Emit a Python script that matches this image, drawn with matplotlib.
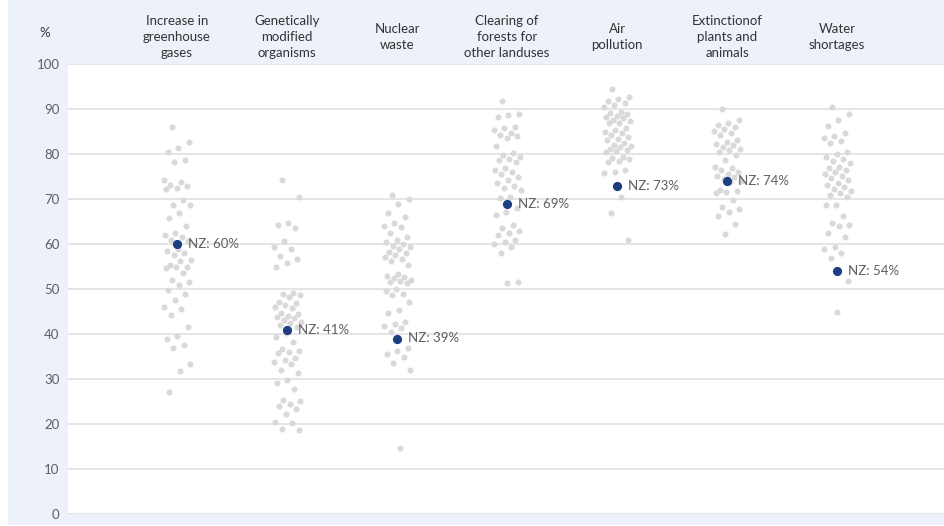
import numpy as np
import matplotlib
matplotlib.use("Agg")
import matplotlib.pyplot as plt
from matplotlib.patches import Rectangle

# ---------------------------------------------------------------------------
# Data: share of respondents per country (grey) and New Zealand (navy), in %
# ---------------------------------------------------------------------------
categories = [
    "Increase in\ngreenhouse\ngases",
    "Genetically\nmodified\norganisms",
    "Nuclear\nwaste",
    "Clearing of\nforests for\nother landuses",
    "Air\npollution",
    "Extinctionof\nplants and\nanimals",
    "Water\nshortages",
]

greenhouse = [85.9, 82.7, 81.3, 80.5, 78.7, 78.3, 74.2, 73.8, 73.2, 72.8, 72.5, 72.3,
              69.8, 68.7, 68.6, 67.0, 65.7, 64.0, 62.4, 62.0, 61.6, 61.0, 60.6, 59.0,
              58.5, 58.0, 57.6, 56.4, 56.2, 55.4, 55.0, 54.8, 54.6, 53.5, 52.0, 51.6,
              50.9, 49.8, 49.0, 47.6, 46.0, 45.5, 44.2, 41.5, 39.6, 39.0, 37.5, 37.0,
              33.3, 31.8, 27.2]
gmo = [74.2, 70.4, 64.7, 64.2, 63.5, 60.7, 59.3, 58.8, 57.3, 56.7, 55.7, 54.8, 49.2,
       48.9, 48.6, 48.3, 47.2, 46.8, 46.4, 46.0, 45.7, 44.7, 44.4, 44.1, 43.8, 43.5,
       43.1, 42.7, 42.4, 42.0, 41.6, 40.2, 39.3, 38.3, 36.6, 36.3, 36.0, 35.7, 34.7,
       34.3, 33.8, 33.3, 31.9, 31.3, 29.8, 29.2, 27.7, 25.3, 25.1, 24.4, 24.0, 23.3,
       22.2, 20.5, 20.3, 19.0, 18.7]
nuclear = [70.9, 70.0, 69.0, 66.8, 66.0, 64.7, 63.9, 63.7, 62.4, 61.6, 60.9, 60.5,
           60.1, 59.6, 59.4, 58.8, 58.3, 57.9, 57.5, 57.2, 56.6, 56.2, 55.3, 53.3,
           53.0, 52.7, 52.4, 52.0, 51.8, 51.5, 51.3, 50.0, 49.5, 49.0, 48.7, 47.2,
           45.3, 44.7, 42.7, 42.2, 41.8, 41.3, 40.5, 36.9, 36.3, 35.6, 35.0, 33.5,
           32.0, 14.6]
forests = [91.8, 89.0, 88.6, 88.3, 86.1, 85.7, 85.3, 84.6, 84.2, 83.9, 83.5, 81.8,
           80.2, 79.8, 79.4, 79.0, 78.7, 78.3, 76.9, 76.5, 76.0, 75.5, 75.0, 74.2,
           73.6, 73.0, 72.5, 72.0, 70.5, 70.3, 68.0, 67.2, 66.4, 64.2, 63.6, 63.0,
           62.5, 62.0, 60.9, 60.4, 59.9, 59.4, 57.9, 51.6, 51.3]
air = [94.4, 92.7, 92.2, 91.8, 91.4, 91.0, 90.5, 89.4, 89.1, 88.8, 88.5, 88.2, 87.9,
       87.6, 87.3, 87.0, 86.8, 85.7, 85.3, 85.0, 84.6, 84.2, 83.8, 83.4, 83.1, 82.4,
       82.1, 81.8, 81.5, 81.2, 80.9, 80.7, 80.5, 79.4, 79.1, 78.8, 78.5, 78.3, 76.4,
       76.1, 75.7, 70.5, 66.8, 61.0]
extinction = [90.1, 87.6, 86.9, 86.5, 86.0, 85.6, 85.2, 84.7, 84.2, 83.1, 82.7, 82.3,
              81.9, 81.5, 81.1, 80.8, 80.5, 79.8, 78.7, 77.2, 76.8, 76.4, 76.0, 75.6,
              75.2, 74.8, 74.4, 74.1, 73.8, 72.0, 71.8, 71.5, 71.3, 69.8, 68.3, 67.8,
              67.2, 66.2, 64.4, 62.2]
water = [90.5, 89.0, 87.6, 86.2, 84.6, 84.0, 83.5, 83.0, 82.4, 80.5, 80.0, 79.4, 78.9,
         78.4, 77.9, 77.2, 76.8, 76.4, 76.0, 75.6, 75.1, 74.7, 74.2, 73.5, 73.1, 72.7,
         72.3, 71.8, 71.4, 70.9, 70.5, 68.7, 68.6, 66.2, 64.6, 64.2, 63.9, 62.5, 61.6,
         59.4, 59.0, 57.9, 56.8, 51.7, 45.0]

countries = [greenhouse, gmo, nuclear, forests, air, extinction, water]
nz_values = [60, 41, 39, 69, 73, 74, 54]

# ---------------------------------------------------------------------------
# Style
# ---------------------------------------------------------------------------
PANEL = "#edf1f9"
GRID = "#dedede"
DOT = "#d9d9d9"
NZ_DOT = "#1d3f82"
TEXT = "#333333"
TICK = "#5f5f5f"
plt.rcParams["font.family"] = ["Lato", "DejaVu Sans"]

fig = plt.figure(figsize=(9.45, 5.26), dpi=100)
fig.patch.set_facecolor("white")
fig.patches.append(Rectangle((8 / 945, 1 / 526), 937 / 945, 525 / 526,
                             transform=fig.transFigure, facecolor=PANEL,
                             edgecolor="none", zorder=-5))

ax = fig.add_axes([68 / 945, 12 / 526, 877 / 945, 450 / 526])
ax.set_facecolor("white")
ax.set_xlim(-0.99, 6.98)
ax.set_ylim(0, 100)
ax.set_yticks(range(0, 101, 10))
ax.set_xticks([])
ax.grid(axis="y", color=GRID, linewidth=1.1)
ax.set_axisbelow(True)
for spine in ax.spines.values():
    spine.set_visible(False)
ax.tick_params(axis="y", length=0, pad=6, labelsize=9.5, labelcolor=TICK)

# deterministic low-discrepancy jitter to spread the strip horizontally
for i, vals in enumerate(countries):
    n = len(vals)
    offs = ((np.arange(n) * 0.6180339887 + 0.31) % 1.0 - 0.5) * 0.25
    ax.scatter(i + offs, vals, s=19, color=DOT, linewidths=0, zorder=2,
               clip_on=False)

xs = np.arange(len(categories))
ax.scatter(xs, nz_values, s=44, color=NZ_DOT, linewidths=0, zorder=3)
for x, v in zip(xs, nz_values):
    ax.annotate(f"NZ: {v}%", (x, v), xytext=(8, 0), textcoords="offset points",
                va="center", ha="left", fontsize=9.5, color=TICK, zorder=4)

# category headers above the plot area
for x, label in zip(xs, categories):
    ax.text(x, 1.06, label, transform=ax.get_xaxis_transform(), ha="center",
            va="center", fontsize=9.5, color=TEXT, linespacing=1.4)

fig.text(45 / 945, 1 - 33 / 526, "%", ha="center", va="center",
         fontsize=9.5, color=TEXT)

fig.savefig("out.png", dpi=100, facecolor=fig.get_facecolor())
